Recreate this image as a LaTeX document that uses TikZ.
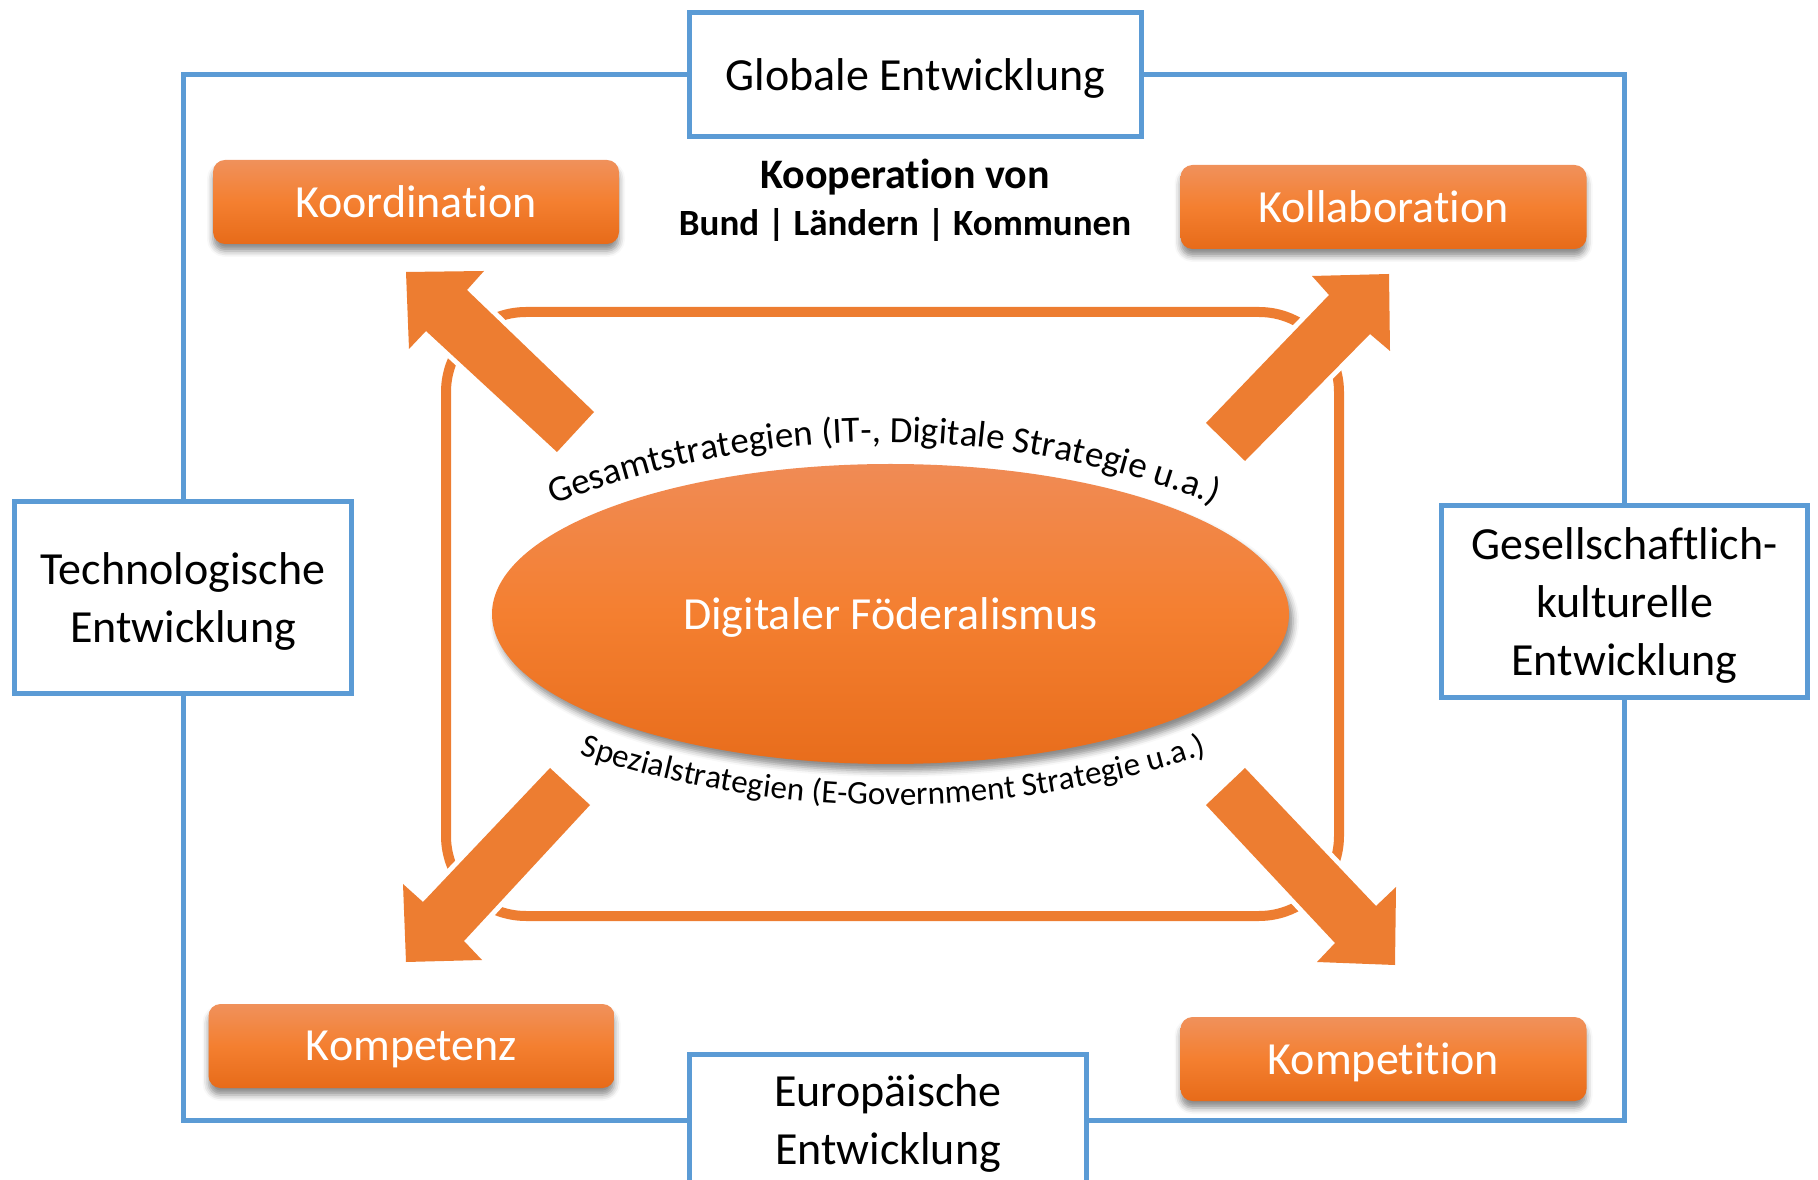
\documentclass[tikz,border=0pt]{standalone}
\usepackage{fontspec}
\setmainfont{Carlito}[Ligatures={NoCommon}]
\usetikzlibrary{shadows.blur,decorations.text,shapes.geometric}
\definecolor{bl}{HTML}{5B9BD5}
\definecolor{orr}{HTML}{ED7D31}
\definecolor{otop}{HTML}{F0915B}
\definecolor{omid}{HTML}{F47F30}
\definecolor{obot}{HTML}{E76B19}
\definecolor{etop}{HTML}{F08B55}
\definecolor{emid}{HTML}{F47F30}
\definecolor{ebot}{HTML}{E86D1C}
\begin{document}
\begin{tikzpicture}[x=1pt,y=1pt,
  bluebox/.style={draw=bl, line width=5pt, fill=white, inner sep=0pt, align=center,
    text depth=0pt, font=\fontsize{46}{58}\selectfont},
  blueline/.style={draw=bl, line width=5pt},
  obox/.style={rounded corners=12pt, top color=otop, bottom color=obot, middle color=omid,
    minimum width=406pt, minimum height=84pt, inner sep=0pt, text=white, text depth=0pt,
    font=\fontsize{46}{56}\selectfont,
    blur shadow={shadow xshift=0pt, shadow yshift=-7pt, shadow blur radius=6pt, shadow opacity=45}},
  blockarrow/.style={fill=orr, preaction={draw=white, line width=10pt, line join=round}},
  curvetext/.style={decorate, decoration={text along path, text align=center}}
]
\useasboundingbox (0,0) rectangle (1818,1179);

% blue boxes
\node[bluebox, minimum width=452pt, minimum height=124pt] (glob) at (915.5,1104.5) {Globale Entwicklung};
\node[bluebox, minimum width=337pt, minimum height=192pt] (tech) at (183,581.5) {Technologische\\Entwicklung};
\node[bluebox, minimum width=366pt, minimum height=192pt] (ges) at (1624.5,577.5) {Gesellschaftlich-\\kulturelle\\Entwicklung};
\node[bluebox, minimum width=397pt, minimum height=131pt] (eur) at (888,59) {Europäische\\Entwicklung};

\draw[blueline] (glob.west) -| (tech.north);
\draw[blueline] (glob.east) -| (ges.north);
\draw[blueline] (tech.south) |- (eur.west);
\draw[blueline] (ges.south) |- (eur.east);

% orange frame
\draw[orr, line width=10pt, rounded corners=80pt] (446,867) rectangle (1339,263);

% block arrows
\path[blockarrow] (406,907) -- (484,908) -- (467,889) -- (594,767) -- (557,727) -- (426,848) -- (409,830) -- cycle;
\path[blockarrow] (1312,903) -- (1389,905) -- (1390,828) -- (1370,845) -- (1245,718) -- (1206,756) -- (1329,884) -- cycle;
\path[blockarrow] (550,411) -- (590,374) -- (464,238) -- (482,219) -- (406,217) -- (403,295) -- (423,277) -- cycle;
\path[blockarrow] (1245,411) -- (1206,374) -- (1335,236) -- (1317,217) -- (1395,214) -- (1396,292) -- (1376,273) -- cycle;

% central ellipse
\node[ellipse, minimum width=797pt, minimum height=300pt, inner sep=0pt,
  top color=etop, bottom color=ebot, middle color=emid, text=white, text depth=0pt,
  font=\fontsize{46}{56}\selectfont,
  blur shadow={shadow xshift=4pt, shadow yshift=-7pt, shadow blur radius=6pt, shadow opacity=45}]
  (df) at (890.5,565) {Digitaler Föderalismus};

% curved texts
\path[curvetext, decoration={text={|\fontsize{37}{40}\selectfont|Gesamtstrategien (IT-, Digitale Strategie u.a.)}}]
  (884,-169) ++(111.5:906) arc[start angle=111.5, end angle=68.5, radius=906];
\path[curvetext, decoration={text={|\fontsize{33}{36}\selectfont|Spezialstrategien (E-Government Strategie u.a.)}}]
  (893,1367) ++(251:993) arc[start angle=251, end angle=289, radius=993];

% orange boxes
\node[obox] (koord) at (416,977) {Koordination};
\node[obox] (koll) at (1383.5,972) {Kollaboration};
\node[obox] (kompz) at (411.5,133) {Kompetenz};
\node[obox] (kompt) at (1383.5,120) {Kompetition};

% cooperation text
\node[font=\bfseries\fontsize{42}{48}\selectfont, anchor=base] (coop1) at (905,990) {Kooperation von};
\node[font=\bfseries\fontsize{37}{44}\selectfont, anchor=base] (coop2) at (905,943) {Bund | Ländern | Kommunen};
\end{tikzpicture}
\end{document}
